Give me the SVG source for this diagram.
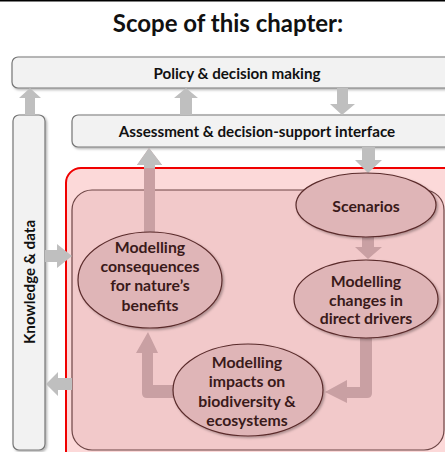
<svg xmlns="http://www.w3.org/2000/svg" width="445" height="452" viewBox="0 0 445 452">
<defs>
<style>
.box{fill:#f2f2f2;stroke:#767676;stroke-width:1.2}
.ell{fill:#dfb5b7;stroke:#5a2b2b;stroke-width:1.2}
.ga{fill:#bfbfbf}
.pa{fill:#c9a0a3}
.t{font-family:Lato,"Liberation Sans",sans-serif;font-weight:bold;text-anchor:middle}
.bt{font-size:15.2px;fill:#111}
.et{font-size:15.8px;fill:#3a1a1a}
</style>
<filter id="sh" x="-10%" y="-10%" width="125%" height="130%">
<feDropShadow dx="1.5" dy="1.5" stdDeviation="1.2" flood-color="#000" flood-opacity="0.3"/>
</filter>
<clipPath id="above"><rect x="0" y="0" width="445" height="168"/></clipPath>
</defs>
<rect x="0" y="0" width="445" height="1.5" fill="#000"/>
<text class="t" x="228" y="32" font-size="24" fill="#111">Scope of this chapter:</text>

<g id="policy">
<rect class="box" x="12" y="57" width="445" height="31" rx="6" filter="url(#sh)"/>
<text class="t bt" x="237" y="79">Policy &amp; decision making</text>
</g>
<g id="assessment">
<rect class="box" x="72" y="115" width="385" height="32" rx="6" filter="url(#sh)"/>
<text class="t bt" x="257" y="137">Assessment &amp; decision-support interface</text>
</g>
<g id="knowledge">
<rect class="box" x="13" y="115" width="32" height="335" rx="6" filter="url(#sh)"/>
<text class="t bt" transform="translate(35,282) rotate(-90)" x="0" y="0">Knowledge &amp; data</text>
</g>

<g id="scope-frame">
<rect x="66" y="168" width="400" height="300" rx="15" fill="#fcd9d9" stroke="#f00000" stroke-width="2"/>
<rect x="72" y="190" width="372" height="260" rx="20" fill="#f2c9ca" stroke="#6d4545" stroke-width="1.2"/>
</g>

<g id="connectors">
<polygon class="ga" points="25,115 25,98 19,98 30,88 41,98 35,98 35,115"/>
<polygon class="ga" points="180,115 180,98 174,98 186,88 198,98 192,98 192,115"/>
<polygon class="ga" points="337,88 337,104 330,104 342,115 355,104 348,104 348,88"/>
<polygon class="ga" points="362,147 362,160 355,160 368,173 382,160 375,160 375,147"/>
<polygon class="pa" points="144,233 144,165 137,165 149,148 162,165 155,165 155,233"/>
<polygon class="ga" clip-path="url(#above)" points="144,233 144,165 137,165 149,148 162,165 155,165 155,233"/>
<polygon class="ga" points="45,250 57,250 57,244 72,256 57,268 57,262 45,262"/>
<polygon class="ga" points="72,378 58,378 58,372 46,384 58,396 58,390 72,390"/>
<polygon class="pa" points="362,237 362,247 355,247 368,259 382,247 374,247 374,237"/>
<path class="pa" d="M360,338 H372 V393 Q372,398 367,398 H347 V403 L325,392 L347,380 V387 H360 Z"/>
<path class="pa" d="M174,385 H153 V353 H158 L148,332 L136,353 H142 V393 Q142,398 147,398 H176 Z"/>
</g>

<g id="scenarios">
<ellipse class="ell" cx="366" cy="205" rx="70" ry="32" filter="url(#sh)"/>
<text class="t et" x="366" y="212">Scenarios</text>
</g>
<g id="drivers">
<ellipse class="ell" cx="366" cy="299" rx="72" ry="39" filter="url(#sh)"/>
<text class="t et" x="366" y="287">Modelling</text>
<text class="t et" x="366" y="306">changes in</text>
<text class="t et" x="366" y="324">direct drivers</text>
</g>
<g id="consequences">
<ellipse class="ell" cx="150" cy="280" rx="72" ry="48" filter="url(#sh)"/>
<text class="t et" x="150" y="253">Modelling</text>
<text class="t et" x="150" y="272">consequences</text>
<text class="t et" x="150" y="291">for nature’s</text>
<text class="t et" x="150" y="311">benefits</text>
</g>
<g id="impacts">
<ellipse class="ell" cx="248" cy="390" rx="75" ry="46" filter="url(#sh)"/>
<text class="t et" x="247" y="368">Modelling</text>
<text class="t et" x="247" y="387">impacts on</text>
<text class="t et" x="247" y="407">biodiversity &amp;</text>
<text class="t et" x="247" y="426">ecosystems</text>
</g>
</svg>
